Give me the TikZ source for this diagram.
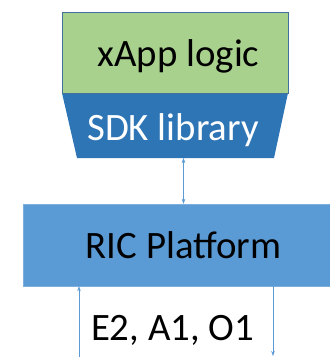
\documentclass[tikz,border=0pt]{standalone}
\usepackage{fontspec}
\setmainfont{Carlito}
\usetikzlibrary{arrows.meta}
\definecolor{xappgreen}{HTML}{A9D18E}
\definecolor{sdkblue}{HTML}{2E75B6}
\definecolor{ricblue}{HTML}{5B9BD5}
\definecolor{edgeblue}{HTML}{41719C}

\begin{document}
\begin{tikzpicture}[x=1pt,y=-1pt,
    lbl/.style={font=\fontsize{38.8}{40}\selectfont, inner sep=0pt, anchor=base}]
    % Marco del dibujo
    \useasboundingbox (0,0) rectangle (330,357);

    % Bloque de la logica de la xApp
    \node[draw=edgeblue, fill=xappgreen, minimum width=226pt, minimum height=81pt] (logic) at (175,52.5) {};
    \node[lbl] (logictext) at (178.5,66.7) {xApp logic};

    % Trapecio de la libreria SDK
    \fill[sdkblue] (62,93) -- (288,93) -- (274,158) -- (77,158) -- cycle;
    \draw[edgeblue, thin] (62,93) -- (288,93);
    \node[lbl, text=white] (sdk) at (173,140) {SDK library};
    \coordinate (sdkbot) at (183.5,158);

    % Bloque de la plataforma RIC
    \node[draw=ricblue!80!white, fill=ricblue, minimum width=321pt, minimum height=82pt] (ric) at (183.5,245) {};
    \node[lbl] (rictext) at (183.5,258.3) {RIC Platform};

    % Flecha doble entre SDK y RIC
    \draw[{Stealth[length=5pt,width=3.5pt]}-{Stealth[length=5pt,width=3.5pt]}, ricblue, thin] (sdkbot) -- (ric.north -| sdkbot);

    % Interfaces de entrada y salida
    \coordinate (inleft) at (79,357);
    \coordinate (outright) at (273,356);
    \draw[-{Stealth[length=5pt,width=3.5pt]}, ricblue, thin] (inleft) -- (inleft |- ric.south);
    \draw[-{Stealth[length=5pt,width=3.5pt]}, ricblue, thin] (outright |- ric.south) -- (outright);
    \node[lbl] (ifaces) at (172.5,340) {E2, A1, O1};

\end{tikzpicture}
\end{document}
